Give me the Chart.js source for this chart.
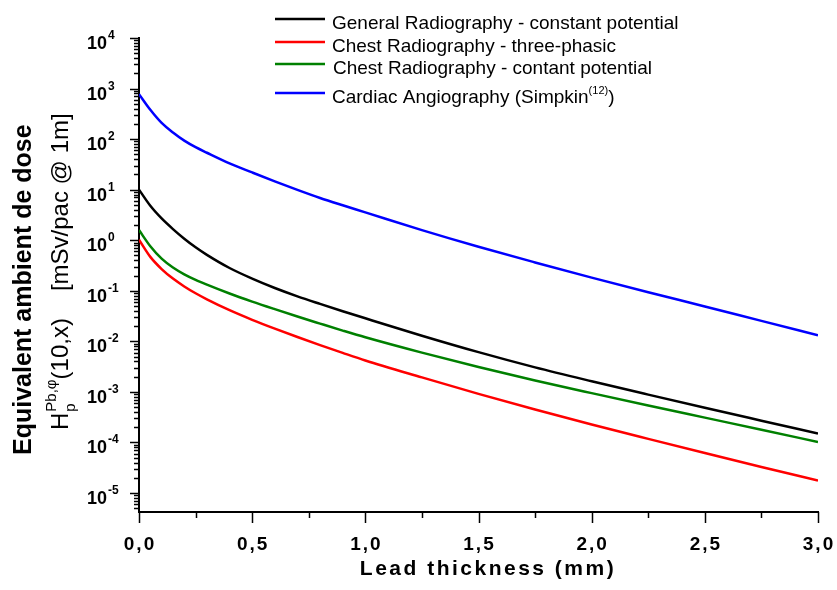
<!DOCTYPE html>
<html>
<head>
<meta charset="utf-8">
<script src="https://cdn.jsdelivr.net/npm/chart.js@4.4.1/dist/chart.umd.min.js"></script>
<style>
  html, body { margin: 0; padding: 0; background: #fff; }
  #wrap { width: 837px; height: 590px; }
</style>
</head>
<body>
<div id="wrap"><canvas id="doseChart"></canvas></div>
<script>
// lead thickness (mm) and dose per patient at 1 m for each spectrum
const thickness = [0, 0.05, 0.1, 0.15, 0.2, 0.25, 0.3, 0.4, 0.5, 0.6, 0.7, 0.8, 0.9, 1.0, 1.25, 1.5, 1.75, 2.0, 2.25, 2.5, 2.75, 3.0];
const generalConstant = [10, 4.79, 2.69, 1.66, 1.07, 0.724, 0.513, 0.282, 0.174, 0.1135, 0.0776, 0.055, 0.0394, 0.0285, 0.0129, 0.0061, 0.00305, 0.00162, 8.81e-4, 4.84e-4, 2.69e-4, 1.50e-4];
const chestThreePhase = [1.023, 0.468, 0.269, 0.174, 0.1216, 0.0891, 0.0676, 0.0412, 0.0266, 0.0178, 0.01216, 0.00841, 0.00589, 0.00417, 0.00193, 9.12e-4, 4.47e-4, 2.26e-4, 1.175e-4, 6.17e-5, 3.27e-5, 1.76e-5];
const chestConstant = [1.585, 0.759, 0.4315, 0.288, 0.2113, 0.164, 0.1318, 0.0881, 0.061, 0.0432, 0.0309, 0.0224, 0.0163, 0.0120, 0.00596, 0.00309, 0.00168, 9.44e-4, 5.37e-4, 3.09e-4, 1.78e-4, 1.02e-4];
const cardiacAngio = [776, 380, 209, 135, 93.3, 69.2, 53.7, 33.1, 21.9, 14.6, 9.89, 6.84, 4.90, 3.55, 1.58, 0.74, 0.363, 0.182, 0.0933, 0.049, 0.0254, 0.0132];

// legend names, split where a superscript is needed
const seriesNames = [
    [["General Radiography - constant potential"]],
    [["Chest Radiography - three-phasic"]],
    [["Chest Radiography - contant potential"]],
    [["Cardiac Angiography (Simpkin"], ["(12)", "sup"], [")"]],
];
const seriesColors = ["#000000", "#ff0000", "#008000", "#0000ff"];

const yExponents = [-5, -4, -3, -2, -1, 0, 1, 2, 3, 4];
const xTicks = [0, 0.5, 1.0, 1.5, 2.0, 2.5, 3.0];
const xTickLabels = ["0,0", "0,5", "1,0", "1,5", "2,0", "2,5", "3,0"];
const xTitle = "Lead thickness (mm)";
const yTitle = "Equivalent ambient de dose";

const FONT = "'Liberation Sans', Arial, sans-serif";

const toPoints = (ys) => thickness.map((x, i) => ({ x: x, y: ys[i] }));
const seriesValues = [generalConstant, chestThreePhase, chestConstant, cardiacAngio];

const decorate = (chart) => {
    const ctx = chart.ctx;
    const xs = chart.scales.x;
    const ys = chart.scales.y;
    const area = chart.chartArea;

    ctx.save();
    ctx.strokeStyle = "#000";
    ctx.fillStyle = "#000";

    // y axis ticks, decade marks longer than the minor ones
    ctx.lineWidth = 1.5;
    for (let d = -6; d <= 4; d++) {
        for (let m = 1; m <= 9; m++) {
            const v = m * Math.pow(10, d);
            if (v < ys.min * 0.999 || v > ys.max * 1.001) continue;
            const py = Math.round(ys.getPixelForValue(v)) + 0.5;
            const len = m === 1 ? 9 : 5;
            ctx.beginPath();
            ctx.moveTo(area.left - len, py);
            ctx.lineTo(area.left, py);
            ctx.stroke();
        }
    }

    // x axis ticks
    for (let v = 0; v <= 3.0001; v += 0.25) {
        const px = Math.round(xs.getPixelForValue(v)) + 0.5;
        const major = Math.abs(v * 2 - Math.round(v * 2)) < 1e-6;
        ctx.beginPath();
        ctx.moveTo(px, area.bottom);
        ctx.lineTo(px, area.bottom + (major ? 11 : 6));
        ctx.stroke();
    }

    // y tick labels as powers of ten
    ctx.textAlign = "left";
    ctx.textBaseline = "alphabetic";
    yExponents.forEach((e) => {
        const py = ys.getPixelForValue(Math.pow(10, e));
        ctx.font = "bold 18px " + FONT;
        ctx.fillText("10", 87, py + 11);
        const w = ctx.measureText("10").width;
        ctx.font = "bold 12px " + FONT;
        ctx.fillText(String(e).replace("-", "\u2011"), 87 + w + 1, py + 1);
    });

    // x tick labels
    ctx.textAlign = "center";
    ctx.font = "bold 19px " + FONT;
    ctx.letterSpacing = "2px";
    xTicks.forEach((v, i) => {
        ctx.fillText(xTickLabels[i], xs.getPixelForValue(v) + 1, 550);
    });

    // x title
    ctx.font = "bold 21px " + FONT;
    ctx.letterSpacing = "2.5px";
    ctx.fillText(xTitle, 488, 575);
    ctx.letterSpacing = "0px";

    // y title, two rotated lines
    ctx.save();
    ctx.translate(31, 455);
    ctx.rotate(-Math.PI / 2);
    ctx.textAlign = "left";
    ctx.font = "bold 25px " + FONT;
    ctx.fillText(yTitle, 0, 0);
    ctx.restore();

    ctx.save();
    ctx.translate(68, 430);
    ctx.rotate(-Math.PI / 2);
    ctx.textAlign = "left";
    let u = 0;
    ctx.font = "24px " + FONT;
    ctx.fillText("H", u, 0);
    u += ctx.measureText("H").width;
    ctx.font = "15px " + FONT;
    ctx.fillText("p", u + 1, 7);
    ctx.fillText("Pb,\u03c6", u + 1, -12);
    u += ctx.measureText("Pb,\u03c6").width + 1;
    ctx.font = "24px " + FONT;
    ctx.fillText("(10,x)", u, 0);
    u += ctx.measureText("(10,x)").width + 27;
    ctx.fillText("[mSv/pac @ 1m]", u, 0);
    ctx.restore();

    // legend
    const rowY = [19, 42, 64, 93];
    chart.data.datasets.forEach((ds, i) => {
        const y = rowY[i];
        ctx.strokeStyle = ds.borderColor;
        ctx.lineWidth = 2.5;
        ctx.beginPath();
        ctx.moveTo(275, y);
        ctx.lineTo(325, y);
        ctx.stroke();

        let x = i === 2 ? 333 : 332;
        ctx.fillStyle = "#000";
        ctx.textAlign = "left";
        seriesNames[i].forEach((part) => {
            if (part[1] === "sup") {
                ctx.font = "11px " + FONT;
                ctx.fillText(part[0], x, y + 1);
            } else {
                ctx.font = "19px " + FONT;
                ctx.fillText(part[0], x, y + 10);
            }
            x += ctx.measureText(part[0]).width;
        });
    });

    ctx.restore();
};

new Chart(document.getElementById("doseChart").getContext("2d"), {
    type: "line",
    data: {
        datasets: seriesValues.map((vals, i) => ({
            label: seriesNames[i].map((p) => p[0]).join(""),
            data: toPoints(vals),
            borderColor: seriesColors[i],
            borderWidth: 2.5,
            pointRadius: 0,
            cubicInterpolationMode: "monotone",
            fill: false,
        })),
    },
    options: {
        responsive: true,
        maintainAspectRatio: false,
        animation: false,
        layout: { padding: { top: 38, right: 19, left: 0, bottom: 0 } },
        plugins: {
            legend: { display: false },
            tooltip: { enabled: false },
        },
        scales: {
            x: {
                type: "linear",
                min: 0,
                max: 3,
                grid: { display: false },
                border: { display: true, color: "#000", width: 2 },
                ticks: { display: false },
                afterFit: (scale) => { scale.height = 78; },
            },
            y: {
                type: "logarithmic",
                min: 4.2e-6,
                max: 1e4,
                grid: { display: false },
                border: { display: true, color: "#000", width: 2 },
                ticks: { display: false },
                afterFit: (scale) => { scale.width = 139; },
            },
        },
    },
    plugins: [{
        id: "doseDecor",
        afterDraw: (chart) => decorate(chart),
    }],
});
</script>
</body>
</html>
